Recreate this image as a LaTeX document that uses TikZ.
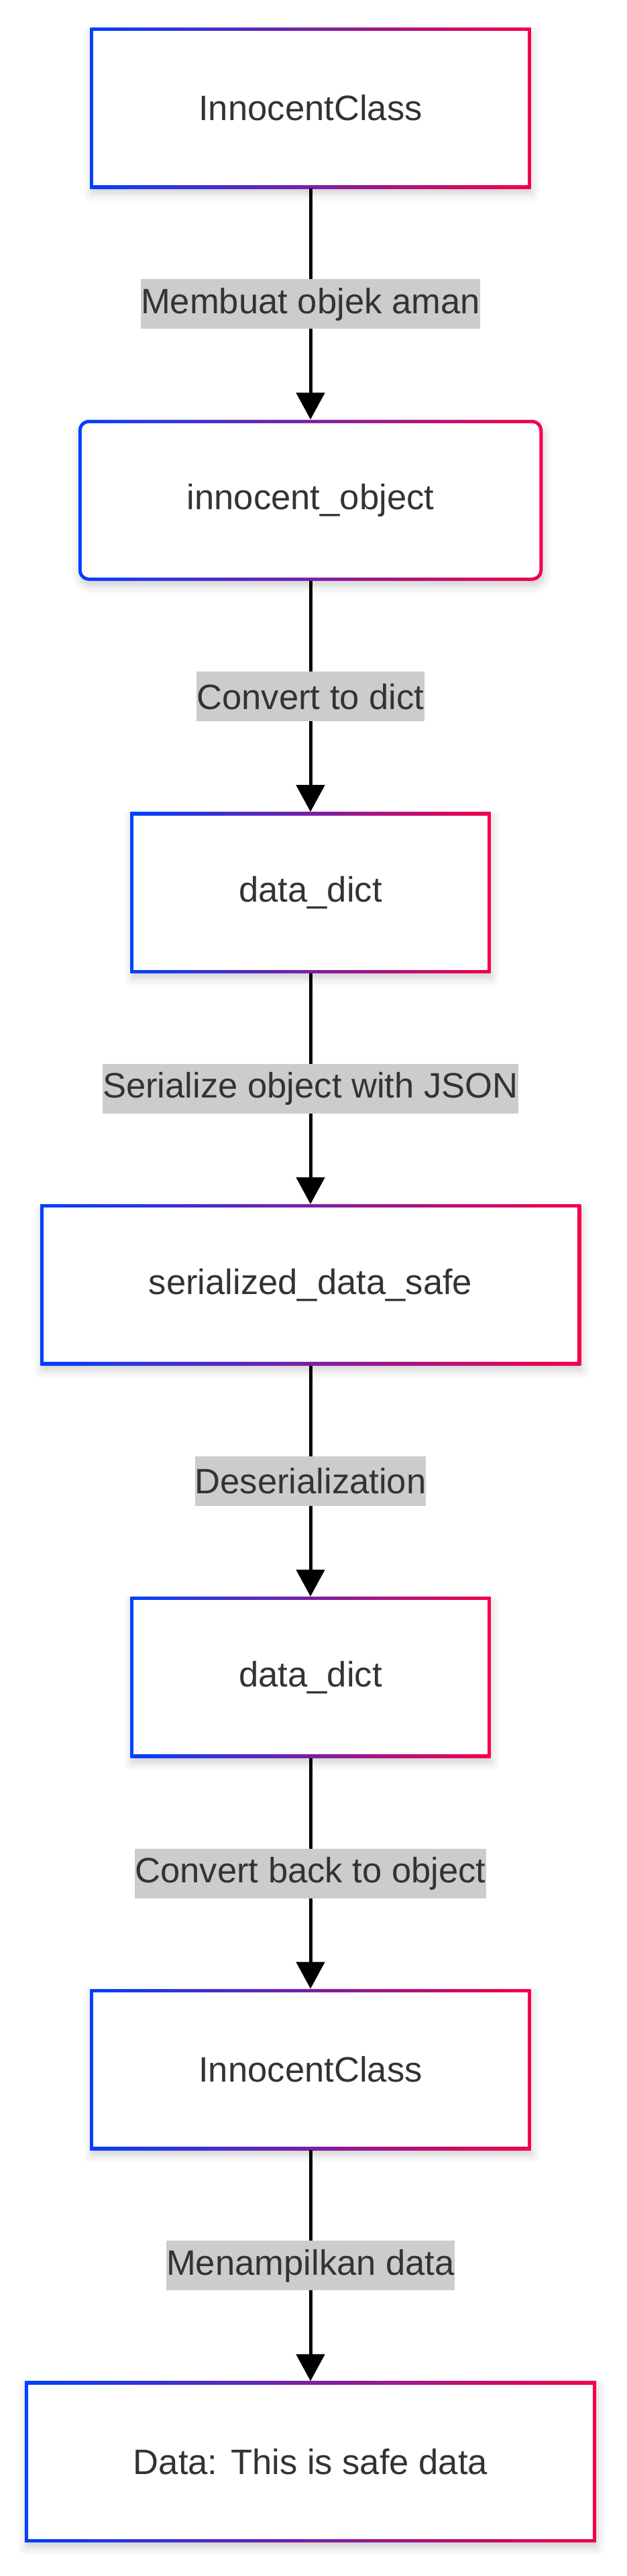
\documentclass[tikz,border=0pt]{standalone}
\usepackage{fontspec}
\setmainfont{Liberation Sans}
\usetikzlibrary{positioning, arrows.meta, shadows.blur}

\definecolor{edgeblue}{HTML}{0040FF}
\definecolor{edgered}{HTML}{F5004A}
\definecolor{labelgray}{HTML}{CCCCCC}
\definecolor{txtgray}{HTML}{333333}

\begin{document}
\begin{tikzpicture}[
		node distance=172pt,                      % 节点之间的竖直间隔
		% 方框：渐变边框（左蓝右红），白色内部
		flowbox/.style={rectangle, left color=edgeblue, right color=edgered,
			minimum height=120pt, inner xsep=81pt, text=txtgray,
			font=\fontsize{26.3}{31}\selectfont,
			blur shadow={shadow xshift=1pt, shadow yshift=-4pt,
				shadow blur radius=6pt, shadow opacity=18},
			path picture={\fill[white]
				([shift={(2.5pt,2.5pt)}]path picture bounding box.south west) rectangle
				([shift={(-2.5pt,-2.5pt)}]path picture bounding box.north east);}},
		% 圆角方框
		roundbox/.style={flowbox, rounded corners=8pt,
			path picture={\fill[white, rounded corners=5.5pt]
				([shift={(2.5pt,2.5pt)}]path picture bounding box.south west) rectangle
				([shift={(-2.5pt,-2.5pt)}]path picture bounding box.north east);}},
		% 箭头上的标签（灰色底）
		edgelabel/.style={fill=labelgray, text=txtgray, inner xsep=0pt, inner ysep=0pt,
			minimum height=37pt, font=\fontsize{26.3}{31}\selectfont},
		flowarrow/.style={-{Triangle[length=20pt, width=21pt]}, line width=2.5pt, black}
		]
		\useasboundingbox (0,0) rectangle (467pt,-1920pt);

		\node[flowbox] (cls1) at (231.5pt,-80.5pt) {InnocentClass};
		\node[roundbox, below=of cls1] (obj) {innocent\_object};
		\node[flowbox, below=of obj] (dict1) {data\_dict};
		\node[flowbox, below=of dict1] (ser) {serialized\_data\_safe};
		\node[flowbox, below=of ser] (dict2) {data\_dict};
		\node[flowbox, below=of dict2] (cls2) {InnocentClass};
		\node[flowbox, below=of cls2] (out) {Data: This is safe data};

		\draw[flowarrow] (cls1) -- node[edgelabel] (lab1) {Membuat objek aman} (obj);
		\draw[flowarrow] (obj) -- node[edgelabel] (lab2) {Convert to dict} (dict1);
		\draw[flowarrow] (dict1) -- node[edgelabel] (lab3) {Serialize object with JSON} (ser);
		\draw[flowarrow] (ser) -- node[edgelabel] (lab4) {Deserialization} (dict2);
		\draw[flowarrow] (dict2) -- node[edgelabel] (lab5) {Convert back to object} (cls2);
		\draw[flowarrow] (cls2) -- node[edgelabel] (lab6) {Menampilkan data} (out);
	\end{tikzpicture}
\end{document}
